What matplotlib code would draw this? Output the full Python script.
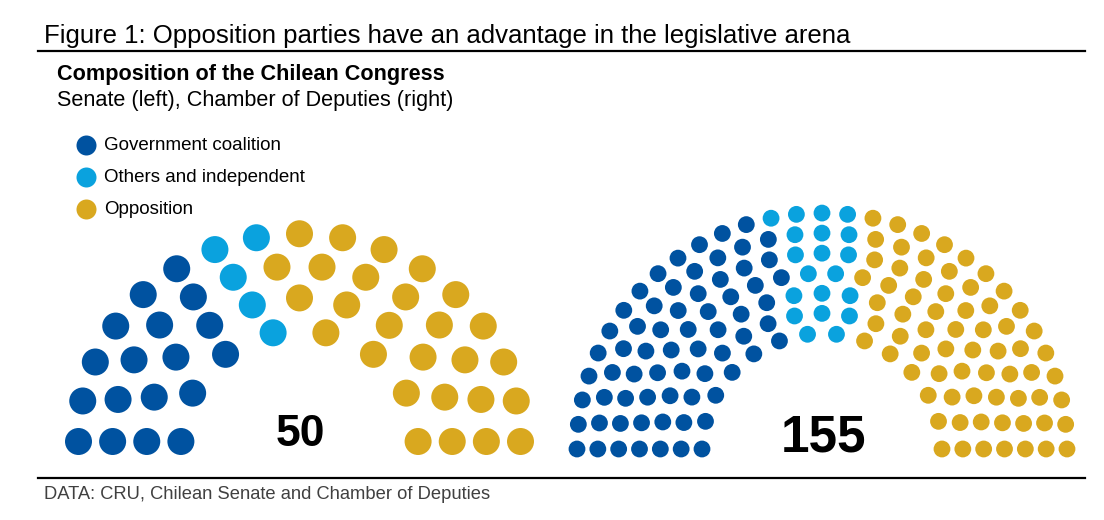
import numpy as np
import matplotlib
matplotlib.use("Agg")
import matplotlib.pyplot as plt
from matplotlib.lines import Line2D

plt.rcParams['font.family'] = ['Liberation Sans', 'DejaVu Sans']

# ---- data ----
parties = ["Government coalition", "Others and independent", "Opposition"]
colors = ["#0052A0", "#0AA2DE", "#D9A81F"]

# seats per row (inner -> outer), split by party (left to right)
senate_gov = [3, 4, 5, 6]
senate_oth = [1, 1, 1, 2]
senate_opp = [4, 6, 8, 9]

chamber_gov = [6, 7, 8, 10, 11, 12, 13]
chamber_oth = [2, 3, 3, 2, 3, 3, 4]
chamber_opp = [6, 7, 8, 10, 11, 12, 14]

senate_total = 50
chamber_total = 155

W, H = 1104, 520
fig = plt.figure(figsize=(W / 100, H / 100), dpi=100)
ax = fig.add_axes([0, 0, 1, 1])
ax.set_xlim(0, W)
ax.set_ylim(H, 0)
ax.axis('off')


def hemicycle(cx, cy, r_in, r_out, squish, gov, oth, opp, dot_px):
    nrows = len(gov)
    radii = np.linspace(r_in, r_out, nrows)
    for i in range(nrows):
        counts = [gov[i], oth[i], opp[i]]
        n = sum(counts)
        ang = np.linspace(np.pi, 0, n)
        party_idx = np.repeat(np.arange(3), counts)
        xs = cx + radii[i] * np.cos(ang)
        ys = cy - radii[i] * np.sin(ang) * squish
        ax.scatter(xs, ys, s=(dot_px * 0.72) ** 2,
                   c=[colors[k] for k in party_idx], linewidths=0, zorder=3)


hemicycle(299.5, 441.5, 118.6, 221, 0.94, senate_gov, senate_oth, senate_opp, 27)
hemicycle(822, 449, 120, 245, 0.963, chamber_gov, chamber_oth, chamber_opp, 16.8)

ax.text(300, 446, str(senate_total), fontsize=32, fontweight='bold',
        ha='center', va='baseline', color='black')
ax.text(823, 452, str(chamber_total), fontsize=37, fontweight='bold',
        ha='center', va='baseline', color='black')

# titles
ax.text(44, 43.5, "Figure 1: Opposition parties have an advantage in the legislative arena",
        fontsize=18.5, ha='left', va='baseline', color='black')
ax.add_line(Line2D([38, 1085], [50.7, 50.7], color='black', lw=1.6))
ax.text(57, 80, "Composition of the Chilean Congress", fontsize=15.6,
        fontweight='bold', ha='left', va='baseline', color='black')
ax.text(57, 106, "Senate (left), Chamber of Deputies (right)", fontsize=15.6,
        ha='left', va='baseline', color='black')

# legend
leg_y = [145, 177, 209]
for k, name in enumerate(parties):
    ax.scatter([85.5], [leg_y[k]], s=(20 * 0.72) ** 2, c=colors[k], linewidths=0)
    ax.text(104, leg_y[k], name, fontsize=13.5, ha='left', va='center', color='black')

# footer
ax.add_line(Line2D([38, 1085], [478, 478], color='black', lw=1.6))
ax.text(44, 499, "DATA: CRU, Chilean Senate and Chamber of Deputies", fontsize=13.2,
        ha='left', va='baseline', color='#404040')

fig.savefig("out.png", dpi=100)
